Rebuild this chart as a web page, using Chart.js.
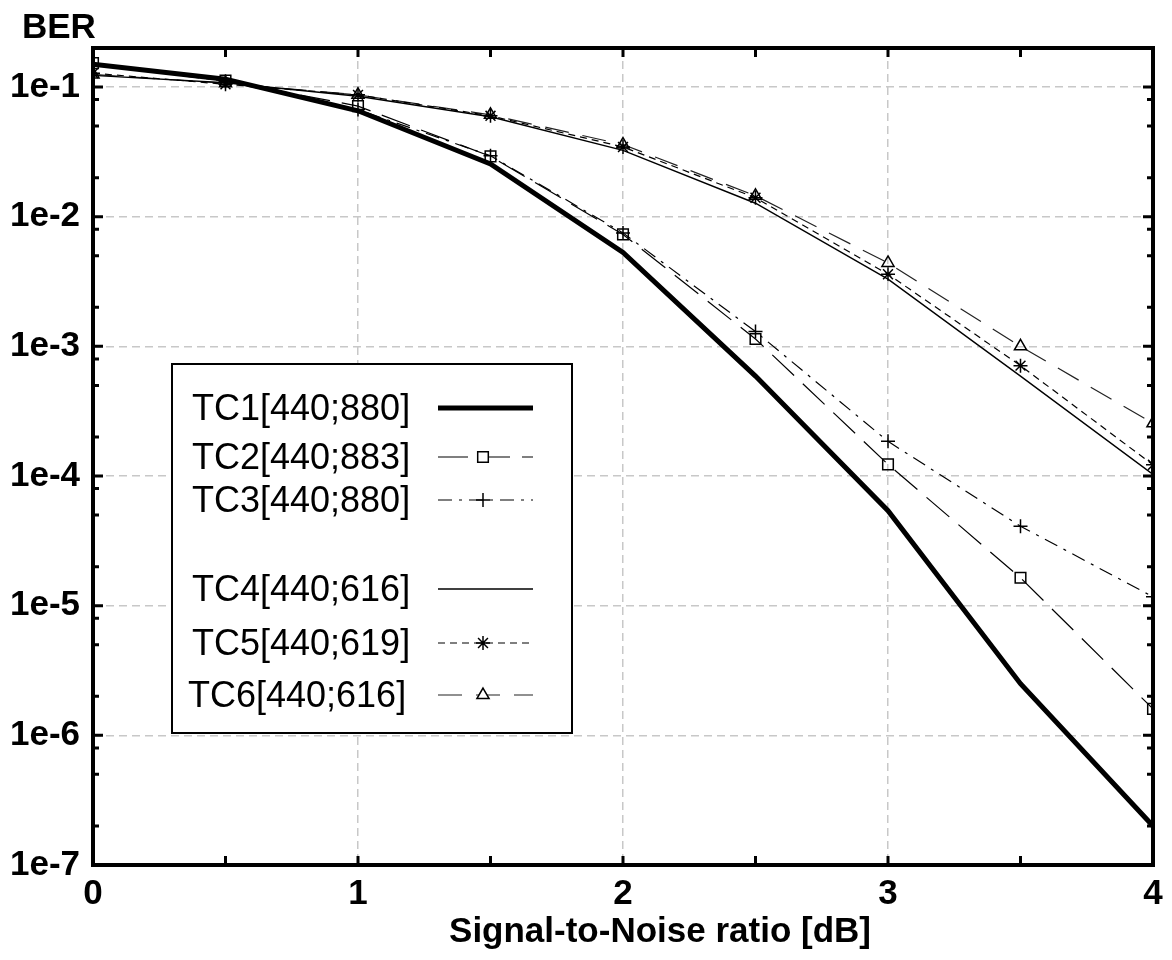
<!DOCTYPE html>
<html lang="en">
<head>
<meta charset="UTF-8">
<title>BER vs Signal-to-Noise ratio</title>
<script src="https://cdn.jsdelivr.net/npm/chart.js"></script>
<style>
  html, body { margin: 0; padding: 0; background: #fff; }
  #wrap { width: 1172px; height: 960px; }
</style>
</head>
<body>
<div id="wrap"><canvas id="berChart" width="1172" height="960"></canvas></div>
<script>
// SNR points (dB)
const snr = [0, 0.5, 1, 1.5, 2, 2.5, 3, 3.5, 4];

// BER values
const tc1 = [0.150, 0.115, 0.0656, 0.0255, 0.0053, 5.9e-4, 5.4e-5, 2.5e-6, 2.0e-7];
const tc2 = [0.153, 0.112, 0.0713, 0.0292, 0.0073, 1.14e-3, 1.23e-4, 1.64e-5, 1.6e-6];
const tc3 = [0.149, 0.111, 0.067, 0.0295, 0.0075, 1.3e-3, 1.85e-4, 4.1e-5, 1.17e-5];
const tc4 = [0.123, 0.108, 0.085, 0.059, 0.0325, 0.0127, 0.0033, 5.9e-4, 1.03e-4];
const tc5 = [0.128, 0.105, 0.087, 0.060, 0.0345, 0.0140, 0.0036, 7.1e-4, 1.22e-4];
const tc6 = [0.125, 0.107, 0.087, 0.061, 0.036, 0.0145, 0.0044, 1.0e-3, 2.55e-4];

const seriesNames = ['TC1[440;880]', 'TC2[440;883]', 'TC3[440;880]',
                     'TC4[440;616]', 'TC5[440;619]', 'TC6[440;616]'];

// axis ticks
const xTicks = [0, 1, 2, 3, 4];
const xTickLabels = ['0', '1', '2', '3', '4'];
const xMinorTicks = [0.5, 1.5, 2.5, 3.5];
const yTicks = [1e-7, 1e-6, 1e-5, 1e-4, 1e-3, 1e-2, 1e-1];
const yTickLabels = ['1e-7', '1e-6', '1e-5', '1e-4', '1e-3', '1e-2', '1e-1'];
const yMinorFactors = [2, 5, 8];

const BOLD = '"Liberation Sans", Arial, Helvetica, sans-serif';

function pts(arr) {
    return snr.map((x, i) => ({ x: x, y: arr[i] }));
}

const datasets = [
    { label: seriesNames[0], data: pts(tc1), borderColor: '#000', borderWidth: 5,
      borderDash: [], pointRadius: 0, pointStyle: false },
    { label: seriesNames[1], data: pts(tc2), borderColor: '#000', borderWidth: 1.2,
      borderDash: [30, 12], pointRadius: 7.5, pointStyle: 'rect' },
    { label: seriesNames[2], data: pts(tc3), borderColor: '#000', borderWidth: 1.2,
      borderDash: [14, 7, 3, 7], pointRadius: 7, pointStyle: 'cross' },
    { label: seriesNames[3], data: pts(tc4), borderColor: '#000', borderWidth: 1.4,
      borderDash: [], pointRadius: 0, pointStyle: false },
    { label: seriesNames[4], data: pts(tc5), borderColor: '#000', borderWidth: 1.2,
      borderDash: [7, 5], pointRadius: 7, pointStyle: 'star' },
    { label: seriesNames[5], data: pts(tc6), borderColor: '#222', borderWidth: 1.2,
      borderDash: [24, 14], pointRadius: 7, pointStyle: 'triangle' }
];
datasets.forEach(d => {
    d.fill = false;
    d.tension = 0;
    d.pointBorderColor = '#000';
    d.pointBackgroundColor = 'rgba(0,0,0,0)';
    d.pointBorderWidth = 1.5;
});

// frame, inward ticks, legend and the free labels
const framePlugin = {
    id: 'frame',
    afterDraw(chart) {
        const ctx = chart.ctx;
        const a = chart.chartArea;
        const xs = chart.scales.x, ys = chart.scales.y;
        ctx.save();

        // ticks
        ctx.strokeStyle = '#000';
        ctx.lineCap = 'butt';
        ctx.lineWidth = 3;
        const xt = xTicks.concat(xMinorTicks);
        xt.forEach(v => {
            const px = xs.getPixelForValue(v);
            ctx.beginPath();
            ctx.moveTo(px, a.bottom); ctx.lineTo(px, a.bottom - 9);
            ctx.moveTo(px, a.top); ctx.lineTo(px, a.top + 9);
            ctx.stroke();
        });
        yTicks.forEach(v => {
            const py = ys.getPixelForValue(v);
            ctx.beginPath();
            ctx.moveTo(a.left, py); ctx.lineTo(a.left + 10, py);
            ctx.moveTo(a.right, py); ctx.lineTo(a.right - 10, py);
            ctx.stroke();
        });
        yTicks.forEach(d => {
            yMinorFactors.forEach(f => {
                const v = d * f;
                if (v > ys.max * 0.999) return;
                const py = ys.getPixelForValue(v);
                ctx.beginPath();
                ctx.moveTo(a.left, py); ctx.lineTo(a.left + 6, py);
                ctx.moveTo(a.right, py); ctx.lineTo(a.right - 6, py);
                ctx.stroke();
            });
        });

        // frame
        ctx.lineWidth = 4;
        ctx.strokeRect(a.left, a.top, a.right - a.left, a.bottom - a.top);

        // legend
        ctx.fillStyle = '#fff';
        ctx.fillRect(172, 364, 400, 369);
        ctx.lineWidth = 2;
        ctx.strokeRect(172, 364, 400, 369);
        const rows = [408, 457, 500, 589, 643, 695];
        ctx.font = '36px ' + BOLD;
        ctx.textBaseline = 'middle';
        ctx.textAlign = 'left';
        chart.data.datasets.forEach((ds, i) => {
            const y = rows[i];
            ctx.fillStyle = '#000';
            ctx.fillText(ds.label, i === 5 ? 188 : 192, y + 2);
            ctx.strokeStyle = ds.borderColor;
            ctx.lineWidth = ds.borderWidth;
            ctx.setLineDash(ds.borderDash);
            ctx.beginPath();
            ctx.moveTo(438, y); ctx.lineTo(533, y);
            ctx.stroke();
            ctx.setLineDash([]);
            if (ds.pointStyle) {
                ctx.strokeStyle = '#000';
                ctx.lineWidth = ds.pointBorderWidth;
                ctx.fillStyle = '#fff';
                Chart.helpers.drawPoint(ctx, {
                    pointStyle: ds.pointStyle, radius: ds.pointRadius,
                    rotation: 0, borderWidth: ds.pointBorderWidth
                }, 483, y);
            }
        });

        // y title and x title
        ctx.fillStyle = '#000';
        ctx.font = 'bold 35px ' + BOLD;
        ctx.textBaseline = 'alphabetic';
        ctx.textAlign = 'left';
        ctx.fillText('BER', 22, 38);
        ctx.textAlign = 'center';
        ctx.textBaseline = 'middle';
        ctx.fillText('Signal-to-Noise ratio [dB]', 660, 932);
        ctx.restore();
    }
};

new Chart(document.getElementById('berChart'), {
    type: 'line',
    data: { datasets: datasets },
    options: {
        responsive: false,
        animation: false,
        layout: { padding: { top: 48, right: 19, left: 0, bottom: 0 } },
        plugins: {
            legend: { display: false },
            tooltip: { enabled: false }
        },
        scales: {
            x: {
                type: 'linear',
                min: 0,
                max: 4,
                afterBuildTicks: s => { s.ticks = xTicks.map(v => ({ value: v })); },
                afterFit: s => { s.height = 95; },
                grid: { color: '#c8c8c8', lineWidth: 1.5, drawTicks: false },
                border: { display: false, dash: [8, 5] },
                ticks: {
                    color: '#000',
                    padding: 8,
                    maxRotation: 0,
                    font: { family: BOLD, size: 35, weight: 'bold' },
                    callback: (v, i) => xTickLabels[i]
                }
            },
            y: {
                type: 'logarithmic',
                min: 1e-7,
                max: 0.2,
                afterBuildTicks: s => { s.ticks = yTicks.map(v => ({ value: v })); },
                afterFit: s => { s.width = 93; },
                grid: { color: '#c8c8c8', lineWidth: 1.5, drawTicks: false },
                border: { display: false, dash: [8, 5] },
                ticks: {
                    color: '#000',
                    padding: 13,
                    font: { family: BOLD, size: 35, weight: 'bold' },
                    callback: (v, i) => yTickLabels[i]
                }
            }
        }
    },
    plugins: [framePlugin]
});
</script>
</body>
</html>
